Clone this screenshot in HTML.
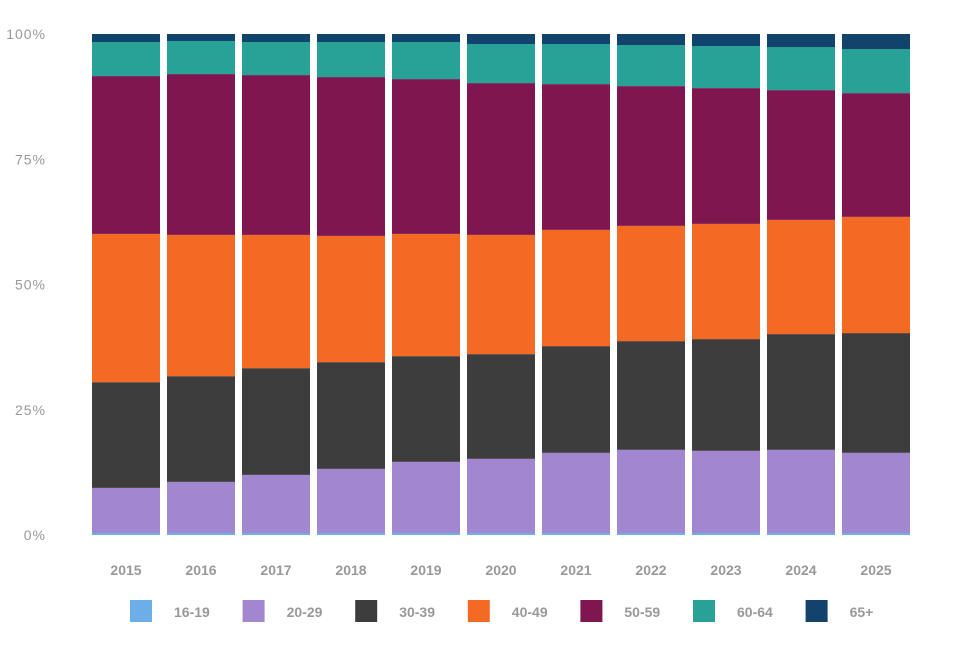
<!DOCTYPE html>
<html><head><meta charset="utf-8"><style>
body{margin:0;background:#fff;font-family:"Liberation Sans",Arial,sans-serif}
svg text{font-family:"Liberation Sans",Arial,sans-serif;fill:#999;font-weight:bold;font-size:14px}
svg text.yt{font-weight:normal;letter-spacing:1px;font-size:14px}
</style></head><body>
<svg id="chart" width="960" height="640"></svg>
<script>
const years=["2015","2016","2017","2018","2019","2020","2021","2022","2023","2024","2025"];
const groups=["16-19","20-29","30-39","40-49","50-59","60-64","65+"];
const colors=["#6baee8","#a287d0","#3d3d3d","#f46a25","#801650","#28a197","#12436d"];
const s1619=[0.4,0.4,0.4,0.4,0.4,0.4,0.4,0.4,0.4,0.4,0.4];
const s2029=[9.0,10.2,11.6,12.8,14.2,14.8,16.0,16.6,16.4,16.6,16.0];
const s3039=[21.1,21.1,21.3,21.3,21.1,20.9,21.3,21.7,22.3,23.1,23.9];
const s4049=[29.6,28.2,26.6,25.2,24.4,23.8,23.2,23.0,23.0,22.8,23.2];
const s5059=[31.5,32.1,31.9,31.7,30.9,30.3,29.1,27.9,27.1,25.9,24.7];
const s6064=[6.8,6.6,6.6,7.0,7.4,7.8,8.0,8.2,8.4,8.6,8.8];
const s65=[1.6,1.4,1.6,1.6,1.6,2.0,2.0,2.2,2.4,2.6,3.0];
const yTicks=[0,25,50,75,100];
const series=[s1619,s2029,s3039,s4049,s5059,s6064,s65];
const NS="http://www.w3.org/2000/svg";
const svg=document.getElementById('chart');
const y0=535,y1=34;
const y=v=>y0-(v/100)*(y0-y1);
const x=i=>126+i*75;
const bw=68;
function mk(t,a){const e=document.createElementNS(NS,t);for(const k in a)e.setAttribute(k,a[k]);svg.appendChild(e);return e;}
yTicks.forEach(t=>{
  const e=mk('text',{x:46,y:y(t)+5,'text-anchor':'end','class':'yt'});e.textContent=t+'%';
  
  
});
years.forEach((yr,i)=>{
  let cum=0;
  series.forEach((s,j)=>{
    const tot=series.reduce((a,ss)=>a+ss[i],0);
    const v=s[i]/tot*100;
    const r=mk('rect',{x:x(i)-bw/2,y:y(cum+v),width:bw,height:y(cum)-y(cum+v),fill:colors[j]});
    
    
    cum+=v;
  });
  const t=mk('text',{x:x(i),y:575,'text-anchor':'middle'});t.textContent=yr;
  
  
});
groups.forEach((g,j)=>{
  const lx=130+j*112.6;
  const r=mk('rect',{x:lx,y:600,width:22,height:22,fill:colors[j]});
  
  
  const t=mk('text',{x:lx+44,y:617});t.textContent=g;
  
  
});
</script>
</body></html>
